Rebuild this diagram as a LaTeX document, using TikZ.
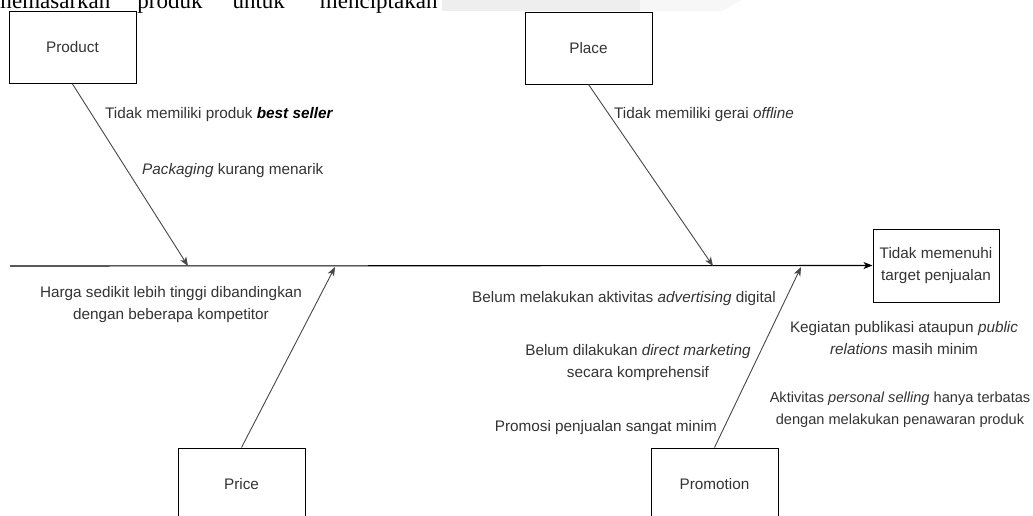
\documentclass[tikz,border=0pt]{standalone}
\usepackage{fontspec}
\setmainfont{Liberation Sans}
\newfontfamily\bgserif{Liberation Serif}
\usetikzlibrary{arrows.meta}
\begin{document}
\begin{tikzpicture}[x=1pt,y=-1pt,
  box/.style={draw=black, line width=1pt, minimum width=127pt, minimum height=72pt, inner sep=0pt,
    font=\fontsize{15.3}{22}\selectfont, text=black!80, align=center},
  lbl/.style={font=\fontsize{15.3}{22}\selectfont, text=black!80, inner sep=0pt, align=center},
  bone/.style={draw=black!72, line width=0.9pt, -{Stealth[length=9pt,width=7pt,inset=2.5pt]}},
  spine/.style={draw=black, line width=1.1pt, -{Stealth[length=9pt,width=7pt,inset=2.5pt]}}
]
\useasboundingbox (0,0) rectangle (1033,515);
% background artefact at the top
\fill[gray!13] (442,0) rectangle (640,11);
\fill[gray!6] (640,0) -- (742,0) -- (722,11) -- (640,11) -- cycle;
\node[anchor=base west, inner sep=0pt, font=\bgserif\fontsize{23}{26}\selectfont] (bgtext) at (-6,8)
  {memasarkan\hspace{27pt}produk\hspace{30pt}untuk\hspace{35pt}menciptakan};

% category boxes
\node[box] (product) at (72.5,47.5) {Product};
\node[box] (place) at (588.5,48) {Place};
\node[box] (price) at (241.5,484) {Price};
\node[box] (promotion) at (714.5,484) {Promotion};
\node[box, minimum width=126pt, minimum height=73pt] (effect) at (936,265.5) {Tidak memenuhi\\target penjualan};

% spine
\coordinate (tail) at (10,266);
\draw[spine] (tail) -- (effect.west);

% bones
\coordinate (s1) at (188,266);
\coordinate (s2) at (335,267);
\coordinate (s3) at (713,266);
\coordinate (s4) at (801,267);
\draw[bone] (product.south) -- (s1);
\draw[bone] (price.north) -- (s2);
\draw[bone] (place.south) -- (s3);
\draw[bone] (promotion.north) -- (s4);

% labels
\node[lbl, anchor=west] (l1) at (105,115) {Tidak memiliki produk \textcolor{black}{\textbf{\textit{best seller}}}};
\node[lbl, anchor=west] (l2) at (142,171) {\textit{Packaging} kurang menarik};
\node[lbl, anchor=west] (l3) at (614,115) {Tidak memiliki gerai \textit{offline}};
\node[lbl] (l4) at (171,305) {Harga sedikit lebih tinggi dibandingkan\\dengan beberapa kompetitor};
\node[lbl, anchor=east] (l5) at (776,299) {Belum melakukan aktivitas \textit{advertising} digital};
\node[lbl] (l6) at (638,363) {Belum dilakukan \textit{direct marketing}\\secara komprehensif};
\node[lbl, anchor=east] (l7) at (717,428) {Promosi penjualan sangat minim};
\node[lbl] (l8) at (904,338) {Kegiatan publikasi ataupun \textit{public}\\\textit{relations} masih minim};
\node[lbl, font=\fontsize{14.6}{22}\selectfont] (l9) at (900,410) {Aktivitas \textit{personal selling} hanya terbatas\\dengan melakukan penawaran produk};
\end{tikzpicture}
\end{document}
